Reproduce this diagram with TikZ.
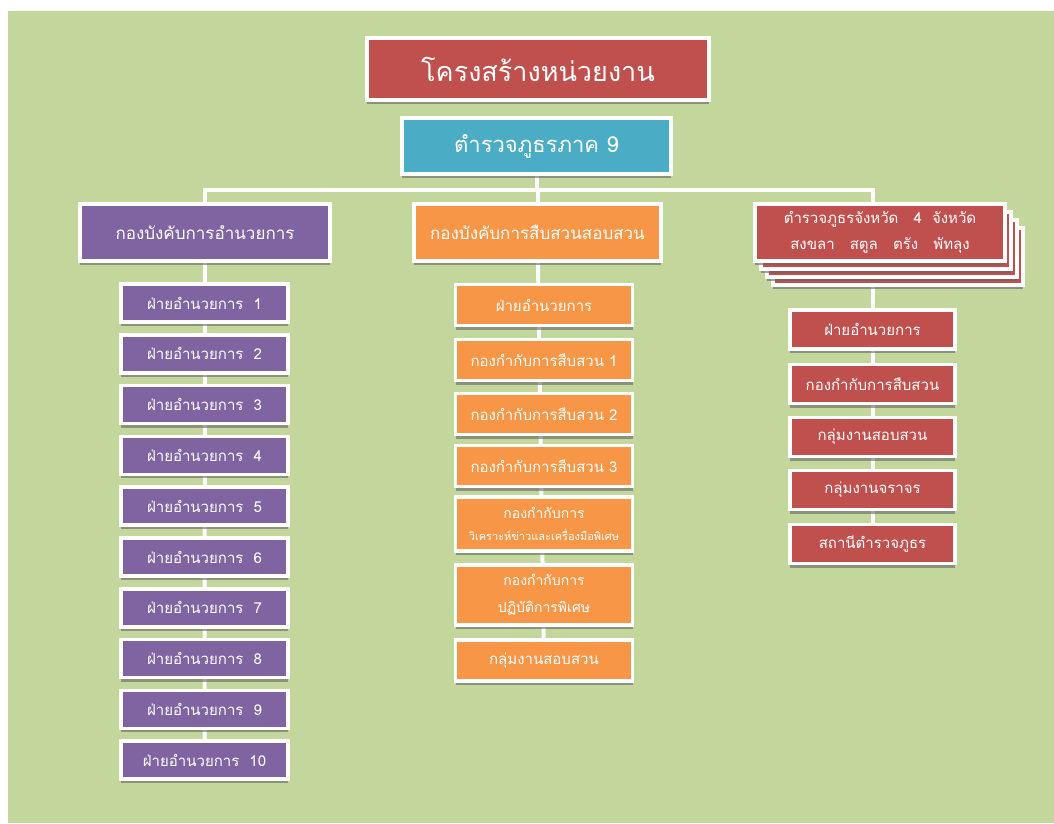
\documentclass[tikz,border=0pt]{standalone}
\usepackage{fontspec}
\newfontfamily\thaifont[Script=Thai]{Loma}
\usetikzlibrary{shadows,backgrounds}

\definecolor{bggreen}{HTML}{C3D69B}
\definecolor{boxred}{HTML}{C0504D}
\definecolor{boxblue}{HTML}{4BACC6}
\definecolor{boxpurple}{HTML}{8064A2}
\definecolor{boxorange}{HTML}{F79646}

\tikzset{
  orgbox/.style={draw=white, line width=3.5pt, text=white, align=center,
    inner sep=0pt, font=\thaifont,
    drop shadow={shadow xshift=0pt, shadow yshift=-4pt, fill=black!60, opacity=0.6}},
  titlebox/.style={orgbox, fill=boxred, minimum width=342pt, minimum height=62pt, font=\thaifont\fontsize{27}{32}\selectfont},
  regionbox/.style={orgbox, fill=boxblue, minimum width=269pt, minimum height=56pt, font=\thaifont\fontsize{22}{26}\selectfont},
  headbox/.style={orgbox, minimum width=250pt, minimum height=57pt, font=\thaifont\fontsize{17}{21}\selectfont},
  leftbox/.style={orgbox, fill=boxpurple, minimum width=167pt, minimum height=38pt, font=\thaifont\fontsize{15}{18}\selectfont},
  midbox/.style={orgbox, fill=boxorange, minimum width=177pt, minimum height=41pt, font=\thaifont\fontsize{15}{18}\selectfont},
  rightbox/.style={orgbox, fill=boxred, minimum width=165pt, minimum height=39pt, font=\thaifont\fontsize{15}{18}\selectfont},
  conn/.style={white, line width=4pt},
}

\begin{document}
\begin{tikzpicture}[x=1pt, y=-1pt]
  \useasboundingbox (0,0) rectangle (1054,823);

  % Background
  \begin{scope}[on background layer]
    \fill[white] (0,0) rectangle (1054,823);
    \fill[bggreen] (8,11) rectangle (1054,823);
  \end{scope}

  % Top
  \node[titlebox] (title) at (538,69) {โครงสร้างหน่วยงาน};
  \node[regionbox] (region) at (536.5,146) {ตำรวจภูธรภาค 9};
  \coordinate (bus) at (536.5,190);

  % Second level
  \node[headbox, fill=boxpurple] (admin) at (205,232.5) {กองบังคับการอำนวยการ};
  \node[headbox, fill=boxorange, minimum width=247pt] (invest) at (537.5,232.5) {กองบังคับการสืบสวนสอบสวน};
  % stacked provinces box
  \foreach \d in {18,12,6}
    \node[headbox, fill=boxred] (prov\d) at ({880+\d},{232.5+4/3*\d}) {};
  \node[headbox, fill=boxred, font=\thaifont\fontsize{15}{26}\selectfont] (prov) at (880,232.5)
    {ตำรวจภูธรจังหวัด\ \ \ 4\ \ จังหวัด\\สงขลา\ \ \ สตูล\ \ \ ตรัง\ \ \ พัทลุง};

  % Left column
  \foreach \i in {1,...,10}
    \node[leftbox] (a\i) at (204.5,{303+(\i-1)*50.8}) {ฝ่ายอำนวยการ\ \ \i};

  % Middle column
  \node[midbox] (m1) at (544,305) {ฝ่ายอำนวยการ};
  \node[midbox] (m2) at (544,360) {กองกำกับการสืบสวน 1};
  \node[midbox] (m3) at (544,414) {กองกำกับการสืบสวน 2};
  \node[midbox] (m4) at (544,466) {กองกำกับการสืบสวน 3};
  \node[midbox, minimum height=54pt, font=\thaifont\fontsize{11}{22}\selectfont] (m5) at (544,524)
    {{\fontsize{14}{22}\selectfont กองกำกับการ}\\วิเคราะห์ข่าวและเครื่องมือพิเศษ};
  \node[midbox, minimum height=60pt, font=\thaifont\fontsize{14}{27}\selectfont] (m6) at (544,595)
    {กองกำกับการ\\ปฏิบัติการพิเศษ};
  \node[midbox] (m7) at (544,660.5) {กลุ่มงานสอบสวน};

  % Right column
  \foreach \i/\y/\txt in {1/329.5/ฝ่ายอำนวยการ, 2/384/กองกำกับการสืบสวน,
      3/437/กลุ่มงานสอบสวน, 4/490/กลุ่มงานจราจร, 5/544/สถานีตำรวจภูธร}
    \node[rightbox] (r\i) at (872.5,\y) {\txt};

  % Connectors
  \begin{scope}[on background layer]
    \draw[conn] (region.south) -- (bus);
    \draw[conn] (admin.north) |- (bus) -| (prov.north -| r1.north);
    \draw[conn] (invest.north) -- (invest.north |- bus);
    \draw[conn] (admin) -- (a10);
    \draw[conn] (invest) -- (m7);
    \draw[conn] (prov.south -| r1.north) -- (r5);
  \end{scope}
\end{tikzpicture}
\end{document}
